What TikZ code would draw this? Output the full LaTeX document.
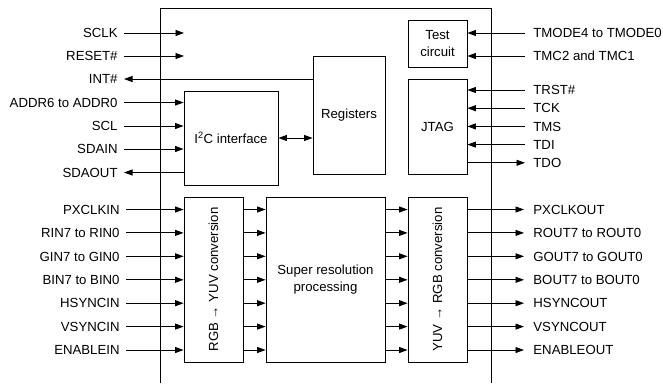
\documentclass[tikz,border=0pt]{standalone}
\usepackage{fontspec}
\setmainfont{Liberation Sans}
\usetikzlibrary{arrows.meta}
\begin{document}
\begin{tikzpicture}[x=1pt,y=-1pt,
  font=\fontsize{13.2}{17.5}\selectfont,
  line width=0.85pt,
  blk/.style={draw, line width=0.85pt, inner sep=0pt, align=center},
  arr/.style={-{Triangle[length=8.5pt,width=6pt]}},
  darr/.style={{Triangle[length=8.5pt,width=6pt]}-{Triangle[length=8.5pt,width=6pt]}},
  lin/.style={anchor=east, inner xsep=6pt, inner ysep=0pt, text height=9.5pt, text depth=0pt},
  rin/.style={anchor=west, inner xsep=8pt, inner ysep=0pt, text height=9.5pt, text depth=0pt}]
\useasboundingbox (0,0) rectangle (663,383);
% outer frame
\coordinate (fbl) at (160.5,383);
\coordinate (ftl) at (160.5,8);
\coordinate (ftr) at (491.5,8);
\coordinate (fbr) at (491.5,383);
\draw (fbl) -- (ftl) -- (ftr) -- (fbr);
% blocks
\node[blk, minimum width=94pt, minimum height=94pt] (i2c) at (231,138) {I\textsuperscript{2}C interface};
\node[blk, minimum width=72pt, minimum height=118pt] (reg) at (349,115) {Registers};
\node[blk, minimum width=59pt, minimum height=47pt] (test) at (437.5,43.5) {Test\\circuit};
\node[blk, minimum width=59pt, minimum height=95pt] (jtag) at (437.5,126.5) {JTAG};
\node[blk, minimum width=59pt, minimum height=165pt] (rgb) at (213.5,279.5) {};
\node[rotate=90, inner sep=0pt] (rgbt) at (rgb.center) {RGB → YUV conversion};
\node[blk, minimum width=119pt, minimum height=165pt] (sr) at (325.5,279.5) {Super resolution\\processing};
\node[blk, minimum width=59pt, minimum height=165pt] (yuv) at (437.5,279.5) {};
\node[rotate=90, inner sep=0pt] (yuvt) at (yuv.center) {YUV → RGB conversion};
% top-left signals
\node[lin] (sclk) at (124,33) {SCLK};
\node[lin] (rst) at (124,56) {RESET\#};
\node[lin] (int) at (124,79) {INT\#};
\node[lin] (addr) at (124,102.5) {ADDR6 to ADDR0};
\node[lin] (scl) at (124,126) {SCL};
\node[lin] (sdain) at (124,149) {SDAIN};
\node[lin] (sdaout) at (124,172.5) {SDAOUT};
\coordinate (sclkend) at (184,33);
\coordinate (rstend) at (184,56);
\draw[arr] (sclk.east) -- (sclkend);
\draw[arr] (rst.east) -- (rstend);
\draw[arr] (reg.west |- int.east) -- (int.east);
\draw[arr] (addr.east) -- (i2c.west |- addr.east);
\draw[arr] (scl.east) -- (i2c.west |- scl.east);
\draw[arr] (sdain.east) -- (i2c.west |- sdain.east);
\draw[arr] (i2c.west |- sdaout.east) -- (sdaout.east);
\draw[darr] (i2c.east) -- (reg.west |- i2c.east);
% top-right signals
\node[rin] (tmode) at (525,33) {TMODE4 to TMODE0};
\node[rin] (tmc) at (525,56) {TMC2 and TMC1};
\node[rin] (trst) at (525,90) {TRST\#};
\node[rin] (tck) at (525,108.2) {TCK};
\node[rin] (tms) at (525,126.4) {TMS};
\node[rin] (tdi) at (525,144.6) {TDI};
\node[rin] (tdo) at (525,162.8) {TDO};
\draw[arr] (tmode.west) -- (test.east |- tmode.west);
\draw[arr] (tmc.west) -- (test.east |- tmc.west);
\draw[arr] (trst.west) -- (jtag.east |- trst.west);
\draw[arr] (tck.west) -- (jtag.east |- tck.west);
\draw[arr] (tms.west) -- (jtag.east |- tms.west);
\draw[arr] (tdi.west) -- (jtag.east |- tdi.west);
\draw[arr] (jtag.east |- tdo.west) -- (tdo.west);
% video path
\foreach \nm/\yy/\inl/\outl in {
  a/209.5/PXCLKIN/PXCLKOUT,
  b/232.9/RIN7 to RIN0/ROUT7 to ROUT0,
  c/256.3/GIN7 to GIN0/GOUT7 to GOUT0,
  d/279.8/BIN7 to BIN0/BOUT7 to BOUT0,
  e/303.2/HSYNCIN/HSYNCOUT,
  f/326.6/VSYNCIN/VSYNCOUT,
  g/350/ENABLEIN/ENABLEOUT} {
  \node[lin] (in\nm) at (126,\yy) {\inl};
  \node[rin, inner xsep=9pt] (out\nm) at (524,\yy) {\outl};
  \draw[arr] (in\nm.east) -- (rgb.west |- in\nm.east);
  \draw[arr] (rgb.east |- in\nm.east) -- (sr.west |- in\nm.east);
  \draw[arr] (sr.east |- in\nm.east) -- (yuv.west |- in\nm.east);
  \draw[arr] (yuv.east |- out\nm.west) -- (out\nm.west);
}
\end{tikzpicture}
\end{document}
